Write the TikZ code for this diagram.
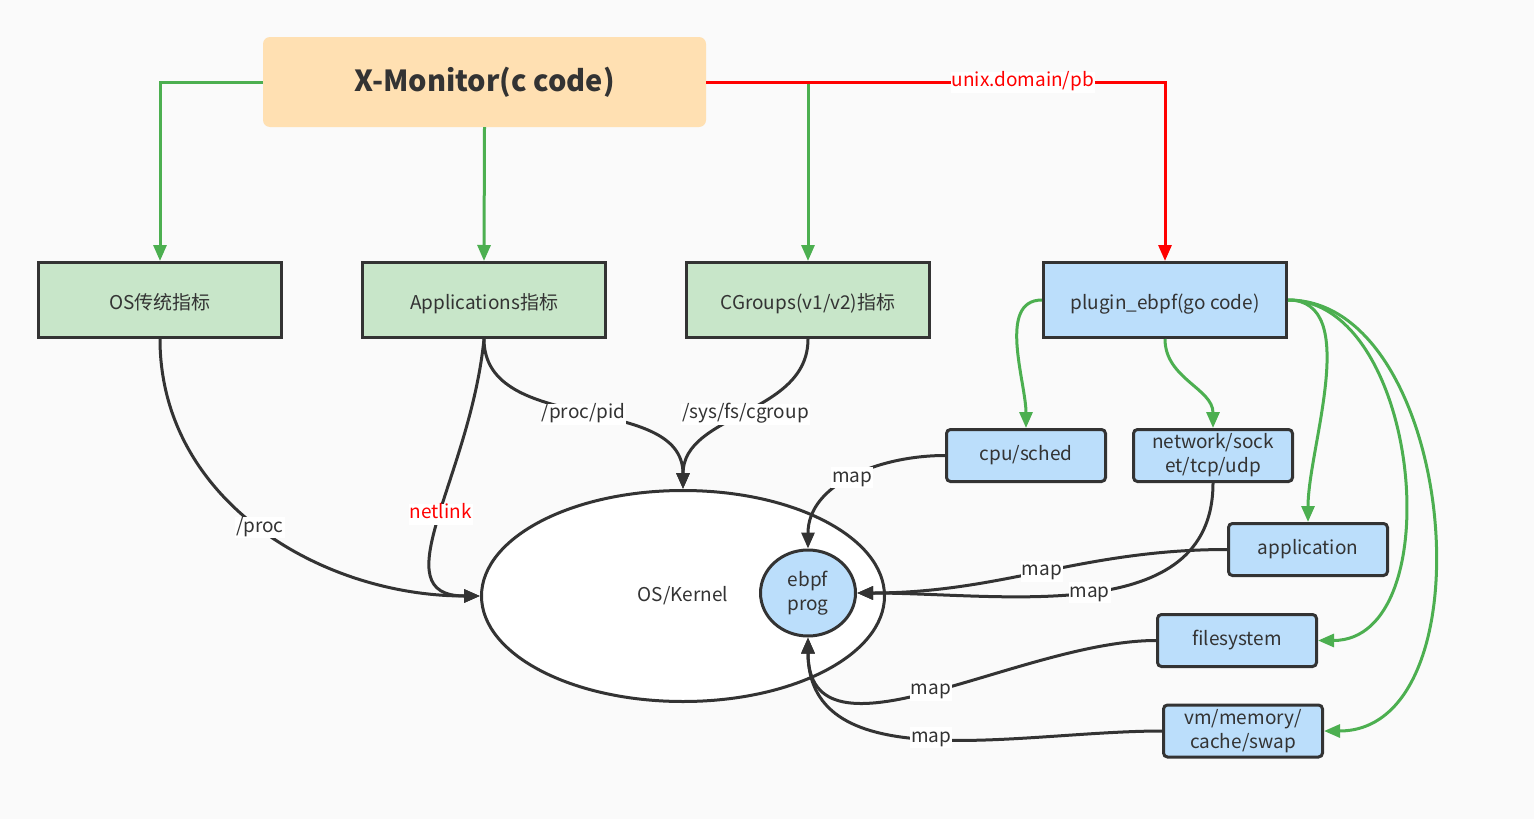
\documentclass[tikz,border=0pt]{standalone}
\usepackage{fontspec}
\setmainfont{Noto Sans CJK SC}
\usepackage{xcolor}
\usetikzlibrary{arrows.meta, shapes.geometric, positioning}
\definecolor{bggray}{HTML}{FAFAFA}
\definecolor{dark}{HTML}{333333}
\definecolor{peach}{HTML}{FFE0B2}
\definecolor{mgreen}{HTML}{C8E6C9}
\definecolor{mblue}{HTML}{BBDEFB}
\definecolor{lgreen}{HTML}{4CAF50}
\tikzset{
  >={Triangle[length=16pt,width=13pt]},  % punte piene
  % Riquadri
  monitor/.style={fill=peach,rounded corners=7pt,minimum width=443pt,minimum height=90pt,
    text=dark,font=\fontsize{29}{32}\selectfont\bfseries},
  metric/.style={draw=dark,line width=3pt,fill=mgreen,minimum width=243pt,minimum height=75pt,
    text height=20pt,text depth=2pt,text=dark,font=\fontsize{19}{24}\selectfont},
  plugin/.style={metric,fill=mblue},
  probe/.style={draw=dark,line width=3pt,fill=mblue,rounded corners=4pt,minimum width=159pt,
    minimum height=52pt,align=center,inner sep=1pt,text=dark,font=\fontsize{19}{24}\selectfont},
  % Collegamenti
  conn green/.style={->,line width=3pt,lgreen},
  conn red/.style={->,line width=3pt,red},
  conn dark/.style={->,line width=3pt,dark},
  lbl/.style={fill=white,inner sep=1pt,text height=14pt,text depth=5pt,text=dark,
    font=\fontsize{19}{22}\selectfont}
}
\begin{document}
\begin{tikzpicture}[x=1pt,y=1pt]
  \fill[bggray] (0,0) rectangle (1534,-819);
  \useasboundingbox (0,0) rectangle (1534,-819);
  % nodi
  \node[monitor] (mon) at (484.5,-82) {X-Monitor(c code)};
  \node[metric] (osm) at (160,-300) {OS传统指标};
  \node[metric] (appm) at (484,-300) {Applications指标};
  \node[metric] (cgm) at (808,-300) {CGroups(v1/v2)指标};
  \node[plugin] (plug) at (1165,-300) {plugin\_ebpf(go code)};
  \node[draw=dark,line width=3pt,fill=white,ellipse,minimum width=403pt,minimum height=211pt,
    text=dark,font=\fontsize{19}{24}\selectfont] (kern) at (683,-596) {OS/Kernel};
  \node[draw=dark,line width=3pt,fill=mblue,ellipse,minimum width=95pt,minimum height=86pt,
    inner sep=0pt,align=center,text=dark,font=\fontsize{19}{24}\selectfont] (ebpf) at (808,-593) {ebpf\\prog};
  \node[probe] (cpu) at (1026,-455.5) {cpu/sched};
  \node[probe] (net) at (1213,-455.5) {network/sock\\et/tcp/udp};
  \node[probe] (appl) at (1308,-549.5) {application};
  \node[probe] (fs) at (1237,-640.5) {filesystem};
  \node[probe] (vm) at (1243,-731) {vm/memory/\\cache/swap};
  % X-Monitor -> metriche
  \draw[conn green] (mon.west) -| (osm.north);
  \draw[conn green] (mon.south) -- (appm.north);
  \draw[conn green] (mon.east) -| (cgm.north);
  \draw[conn red] (mon.east) -| (plug.north)
    node[lbl,pos=0.345,text=red] (upb) {unix.domain/pb};
  % metriche -> kernel
  \draw[conn dark] (osm.south) to[out=-90,in=180] node[lbl,pos=0.5] (lproc) {/proc} (kern.west);
  \draw[conn dark] (appm.south) .. controls +(-14,-140) and +(-100,0) .. (kern.west)
    node[lbl,pos=0.48,text=red] (lnl) {netlink};
  \draw[conn dark] (appm.south) to[out=-90,in=90] node[lbl,pos=0.5] (lpid) {/proc/pid} (kern.north);
  \draw[conn dark] (cgm.south) to[out=-90,in=90] node[lbl,pos=0.5] (lcg) {/sys/fs/cgroup} (kern.north);
  % plugin -> sonde
  \draw[conn green] (plug.west) to[out=180,in=90,looseness=0.9] (cpu.north);
  \draw[conn green] (plug.south) to[out=-90,in=90] (net.north);
  \draw[conn green] (plug.east) to[out=0,in=90,looseness=0.85] (appl.north);
  \draw[conn green] (plug.east) to[out=0,in=0] (fs.east);
  \draw[conn green] (plug.east) to[out=0,in=0] (vm.east);
  % sonde -> ebpf prog
  \draw[conn dark] (cpu.west) to[out=180,in=90] node[lbl,pos=0.5] (m1) {map} (ebpf.north);
  \draw[conn dark] (appl.west) to[out=180,in=0] node[lbl,pos=0.5] (m2) {map} (ebpf.east);
  \draw[conn dark] (net.south) to[out=-90,in=0] node[lbl,pos=0.5] (m3) {map} (ebpf.east);
  \draw[conn dark] (fs.west) to[out=180,in=-90] node[lbl,pos=0.5] (m4) {map} (ebpf.south);
  \draw[conn dark] (vm.west) to[out=180,in=-90] node[lbl,pos=0.5] (m5) {map} (ebpf.south);
\end{tikzpicture}
\end{document}
